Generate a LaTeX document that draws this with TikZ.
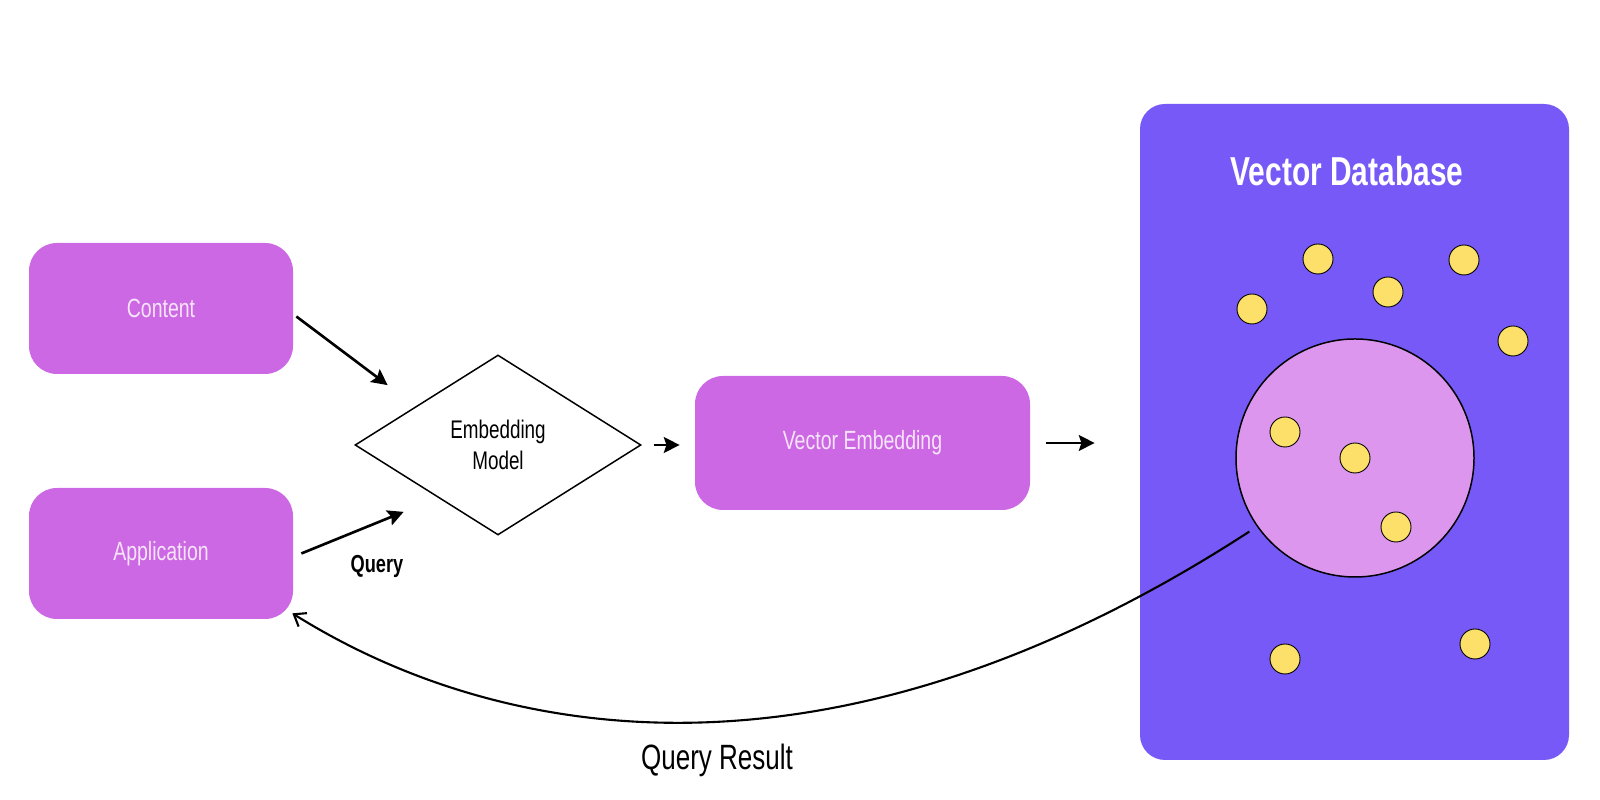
\documentclass[tikz,border=0pt]{standalone}
\usepackage{fontspec}
\setmainfont{Liberation Sans}[FakeStretch=0.74]
\usetikzlibrary{shapes.geometric, arrows.meta}

\definecolor{boxlila}{RGB}{205,104,228}
\definecolor{boxtext}{RGB}{246,228,250}
\definecolor{dbblau}{RGB}{119,89,247}
\definecolor{clusterlila}{RGB}{221,150,237}
\definecolor{punktgelb}{RGB}{253,224,106}

\tikzset{
  block/.style={rectangle, fill=boxlila, text=boxtext, rounded corners=0.56cm, minimum width=5.28cm, minimum height=2.62cm, font=\fontsize{15}{18}\selectfont},
  modell/.style={diamond, draw, line width=0.85pt, fill=white, minimum width=5.72cm, minimum height=3.6cm, inner sep=0pt, align=center, font=\fontsize{14.5}{18}\selectfont},
  arrow/.style={-{Stealth[length=9pt, width=9pt, inset=1.5pt]}, line width=1.5pt},
  punkt/.style={circle, draw, line width=0.5pt, fill=punktgelb, minimum size=0.6cm, inner sep=0pt},
}

\begin{document}
\begin{tikzpicture}[auto]
  \tikzset{
    datenbank/.style={rectangle, fill=dbblau, rounded corners=0.5cm,
      minimum width=8.58cm, minimum height=13.12cm},
    cluster/.style={circle, draw, line width=0.85pt, fill=clusterlila,
      minimum size=4.76cm, inner sep=0pt},
  }
  \useasboundingbox (0,0) rectangle (32,16);

  % Linke Spalte: Quellen
  \node[block] (content) at (3.22, 9.83) {Content};
  \node[block] (app)     at (3.22, 4.93) {Application};

  % Mitte: Modell und Embedding
  \node[modell] (model) at (9.96, 7.10) {Embedding\\Model};
  \node[block, minimum width=6.7cm, minimum height=2.68cm] (vec) at (17.25, 7.14) {Vector Embedding};

  % Rechts: Vektordatenbank
  \node[datenbank] (db) at (27.09, 7.36) {};
  \node[text=white, font=\fontsize{23}{27}\selectfont\bfseries] (dbtitel) at (26.94, 12.58) {Vector Database};
  \node[cluster] (cl) at (27.10, 6.84) {};

  % Datenpunkte
  \node[punkt] (p1)  at (26.36, 10.82) {};
  \node[punkt] (p2)  at (29.28, 10.80) {};
  \node[punkt] (p3)  at (27.76, 10.16) {};
  \node[punkt] (p4)  at (25.04, 9.82) {};
  \node[punkt] (p5)  at (30.26, 9.18) {};
  \node[punkt] (p6)  at (25.70, 7.36) {};
  \node[punkt] (p7)  at (27.10, 6.84) {};
  \node[punkt] (p8)  at (27.92, 5.46) {};
  \node[punkt] (p9)  at (25.70, 2.82) {};
  \node[punkt] (p10) at (29.50, 3.12) {};

  % Content -> Modell
  \draw[arrow] ([xshift=0.06cm, yshift=-0.16cm]content.east) --
               ([xshift=-0.77cm, yshift=0.29cm]model.north west);

  % Application -> Modell (Query)
  \draw[arrow] ([xshift=0.16cm]app.east) --
               ([xshift=-0.45cm, yshift=-0.43cm]model.south west);
  \node[font=\fontsize{14}{17}\selectfont\bfseries] (query) at (7.54, 4.68) {Query};

  % Modell -> Vector Embedding -> Datenbank
  \draw[arrow, shorten <=0.24cm, shorten >=0.3cm] (model.east) -- (model.east -| vec.west);
  \draw[arrow, shorten <=0.32cm, shorten >=0.9cm] (vec.east) -- (vec.east -| db.west);

  % Ergebnis zurueck zur Application
  \draw[-{Straight Barb[length=6pt, width=9pt]}, line width=1.2pt, shorten <=0.18cm]
    (cl.215) .. controls +(213:10cm) and +(-32:5cm) ..
    ([xshift=-0.02cm, yshift=0.12cm]app.south east);
  \node[font=\fontsize{20}{24}\selectfont] (ergebnis) at (14.34, 0.80) {Query Result};

\end{tikzpicture}
\end{document}
